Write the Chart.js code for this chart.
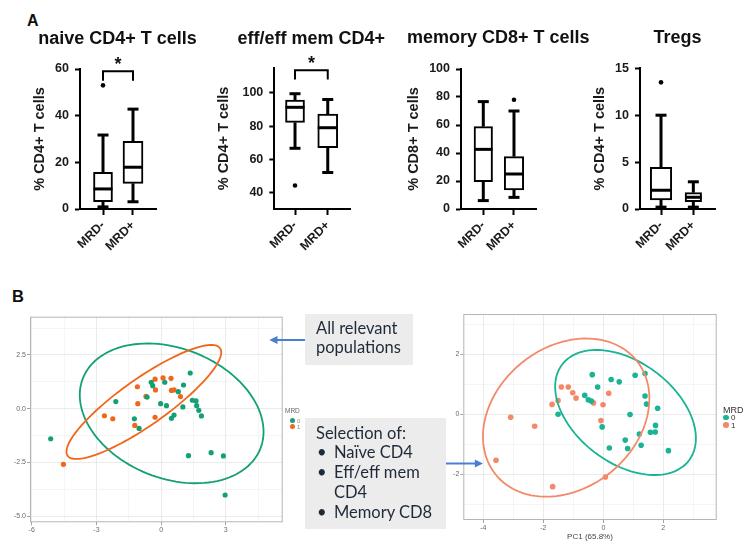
<!DOCTYPE html>
<html>
<head>
<meta charset="utf-8">
<script src="https://cdn.jsdelivr.net/npm/chart.js@4.4.1/dist/chart.umd.min.js"></script>
<style>
  body { margin:0; width:754px; height:558px; background:#fff; position:relative; overflow:hidden;
         font-family:"Liberation Sans", Arial, sans-serif; }
  canvas { position:absolute; }
  .t { position:absolute; white-space:nowrap; line-height:1; color:#111; }
  .ttl { position:absolute; width:220px; text-align:center; font-size:18px; font-weight:bold; line-height:1; color:#111; }
  .note { position:absolute; background:#ececec; font-family:Lato, "Noto Sans", sans-serif; font-size:16.5px; color:#1e2a38; box-sizing:border-box; }
  .note div { position:relative; white-space:nowrap; }
  .note .bl { padding-left:29px; margin-left:-11px; }
  .note .bl span { position:absolute; left:12px; }
  .dot { position:absolute; border-radius:50%; }
</style>
</head>
<body>

<canvas id="box0"></canvas>
<canvas id="box1"></canvas>
<canvas id="box2"></canvas>
<canvas id="box3"></canvas>
<canvas id="pcaL"></canvas>
<canvas id="pcaR"></canvas>

<div class="t" style="left:27px;top:12.5px;font-size:16px;font-weight:bold">A</div>
<div class="t" style="left:12px;top:287.5px;font-size:16.5px;font-weight:bold">B</div>

<div class="ttl" style="left:7.5px;top:28.8px">naive CD4+ T cells</div>
<div class="ttl" style="left:201.3px;top:28.8px">eff/eff mem CD4+</div>
<div class="ttl" style="left:388.3px;top:28px">memory CD8+ T cells</div>
<div class="ttl" style="left:567.5px;top:28px">Tregs</div>

<!-- small legends of the PCA plots -->
<div class="t" style="left:285px;top:408px;font-size:6.5px;color:#666">MRD</div>
<div class="dot" style="left:290.2px;top:417.5px;width:5px;height:5px;background:#14a075"></div>
<div class="dot" style="left:290.2px;top:423.9px;width:5px;height:5px;background:#f0661a"></div>
<div class="t" style="left:297px;top:417.5px;font-size:6px;color:#888">0</div>
<div class="t" style="left:297px;top:423.9px;font-size:6px;color:#888">1</div>

<div class="t" style="left:723px;top:405.7px;font-size:9px;color:#333">MRD</div>
<div class="dot" style="left:723.2px;top:414.5px;width:5.6px;height:5.6px;background:#1ab394"></div>
<div class="dot" style="left:723.2px;top:422.2px;width:5.6px;height:5.6px;background:#f4896a"></div>
<div class="t" style="left:731px;top:413.8px;font-size:8px;color:#333">0</div>
<div class="t" style="left:731px;top:421.5px;font-size:8px;color:#333">1</div>

<div class="note" style="left:305px;top:314px;width:108px;height:51px;padding-top:5px;padding-left:11px;line-height:19px">
  <div>All relevant</div>
  <div>populations</div>
</div>
<div class="note" style="left:305px;top:418px;width:141px;height:111px;padding-top:5.7px;padding-left:11px;line-height:19.8px">
  <div>Selection of:</div>
  <div class="bl"><span>•</span>Naïve CD4</div>
  <div class="bl"><span>•</span>Eff/eff mem</div>
  <div class="bl">CD4</div>
  <div class="bl"><span>•</span>Memory CD8</div>
</div>

<svg style="position:absolute;left:0;top:0" width="754" height="558">
  <line x1="305" y1="340" x2="276" y2="340" stroke="#4a7ecf" stroke-width="2"/>
  <polygon points="269.3,340 277.5,336 277.5,344" fill="#4a7ecf"/>
  <line x1="446" y1="463.5" x2="475" y2="463.5" stroke="#4a7ecf" stroke-width="2"/>
  <polygon points="483,463.5 474.8,459.5 474.8,467.5" fill="#4a7ecf"/>
</svg>

<script>
// ---- panel A: box plots ----
const groups = ['MRD-', 'MRD+'];
const yTitles = ['% CD4+ T cells', '% CD4+ T cells', '% CD8+ T cells', '% CD4+ T cells'];
// one pair [MRD-, MRD+] per panel
const whiskLow  = [[0.9, 3.1],  [66.6, 52],   [6, 8.3],     [0.2, 0.2]];
const q1        = [[3.1, 11],   [82.2, 67],   [19.5, 13.6], [0.96, 0.78]];
const median    = [[8.6, 17.9], [91.3, 79],   [42.6, 25],   [2.0, 1.25]];
const q3        = [[15.7, 29],  [95.7, 87.2], [58.8, 37.4], [4.44, 1.74]];
const whiskHigh = [[31.7, 42.8],[99.5, 96],   [76.7, 70],   [10, 2.9]];
const outliers  = [[[0, 53]], [[0, 44.2]], [[1, 78]], [[0, 13.5]]];
const yMin = [0, 30, 0, 0];
const yMax = [60, 115, 100, 15];
const yTicks = [[0, 20, 40, 60], [40, 60, 80, 100], [0, 20, 40, 60, 80, 100], [0, 5, 10, 15]];
// significance bracket: [bar level, leg end] or null
const sigBar = [[59, 55], [113.6, 108], null, null];

// ---- panel B: PCA scores ----
const pcaLeftMRD0 = [[-5.12,-1.40],[-2.10,0.33],[-1.24,-0.47],[-1.02,-0.92],[-0.46,1.23],[-0.39,1.07],[0.17,1.23],
  [-0.65,0.54],[-0.02,0.23],[0.25,0.14],[0.80,0.79],[1.04,1.10],[1.35,1.66],[1.01,0.08],[0.48,-0.45],[0.60,-0.30],
  [1.45,0.39],[1.62,0.36],[1.65,0.14],[1.75,-0.08],[1.87,-0.34],[1.27,-2.19],[2.32,-2.05],[2.89,-2.20],[2.97,-4.02]];
const pcaLeftMRD1 = [[-4.53,-2.59],[-2.63,-0.33],[-2.24,-0.47],[-1.10,1.02],[-1.08,0.23],[-1.22,-0.78],[-0.70,0.57],
  [-0.28,1.37],[-0.26,0.87],[-0.28,-0.40],[0.09,1.43],[0.46,1.41],[0.48,0.85],[0.60,0.87],[0.90,0.56]];
const pcaRightMRD0 = [[-0.37,1.32],[-0.19,0.91],[0.26,1.16],[0.53,1.08],[1.06,1.30],[1.39,1.36],[1.39,0.61],[1.44,0.34],
  [1.81,0.20],[-0.62,0.63],[-0.50,0.48],[-0.40,0.44],[-1.51,0.00],[0.89,-0.01],[-0.04,-0.42],[1.20,-0.66],[1.57,-0.60],
  [1.73,-0.59],[1.74,-0.37],[0.73,-0.86],[1.26,-1.03],[0.81,-1.14],[0.20,-1.12],[2.17,-1.21]];
const pcaRightMRD1 = [[-3.09,-0.10],[-3.58,-1.53],[-2.29,-0.40],[-1.71,0.33],[-1.51,0.46],[-1.40,0.91],[-1.17,0.91],
  [-1.02,0.72],[-0.91,0.54],[-0.33,0.38],[-0.01,0.32],[0.18,0.70],[-0.08,-0.21],[-1.69,-2.41],[0.07,-2.09]];
// confidence ellipses: [cx, cy, semi-major, semi-minor, angle deg] for MRD 0, MRD 1
const ellipseLeft  = [[0.49, -0.22, 4.43, 3.02, -21.9], [-0.80, 0.31, 4.33, 1.08, 35.3]];
const ellipseRight = [[0.74, 0.06, 2.65, 1.68, -36.9], [-1.24, -0.11, 3.02, 2.35, 38.9]];
const pcaXLabel = 'PC1 (65.8%)';

Chart.defaults.font.family = '"Liberation Sans", Arial, sans-serif';
Chart.defaults.animation = false;

// puts a canvas so that its chart area lands on the given box, returns the layout padding
function place(canvas, area, yW, xH, extra) {
  const left = Math.floor(area.l - yW - extra.l), top = Math.floor(area.t - extra.t);
  const width = Math.ceil(area.r + extra.r - left), height = Math.ceil(area.b + xH + extra.b - top);
  canvas.width = width; canvas.height = height;
  canvas.style.left = left + 'px'; canvas.style.top = top + 'px';
  return { left: area.l - yW - left, top: area.t - top, right: left + width - area.r, bottom: top + height - area.b - xH };
}

const boxArea = [{l:80, t:69, r:156, b:209}, {l:274.3, t:68, r:350, b:209}, {l:461, t:69, r:536.7, b:209}, {l:640, t:68.3, r:715, b:209}];
const boxYW = [48.4, 59.4, 56.1, 48.4];
const boxXRange = [[-0.767, 1.767], [-0.633, 1.68], [-0.726, 1.74], [-0.65, 1.67]];
const boxWidth = [[19, 20], [19, 20], [18.5, 19.5], [21.5, 16.5]];

const boxPlugin = {
  id: 'boxWhisker',
  afterDatasetsDraw(chart, args, opts) {
    const i = opts.panel, xs = chart.scales.x, ys = chart.scales.y, ctx = chart.ctx;
    const seg = (x1, y1, x2, y2, w) => { ctx.lineWidth = w; ctx.beginPath(); ctx.moveTo(x1, y1); ctx.lineTo(x2, y2); ctx.stroke(); };
    ctx.save();
    ctx.strokeStyle = '#000';
    groups.forEach((g, k) => {
      const px = xs.getPixelForValue(k), half = boxWidth[i][k] / 2;
      const yhi = ys.getPixelForValue(whiskHigh[i][k]), ylo = ys.getPixelForValue(whiskLow[i][k]);
      seg(px, ys.getPixelForValue(q3[i][k]), px, yhi, 3);
      seg(px - 5.5, yhi, px + 5.5, yhi, 3);
      seg(px, ys.getPixelForValue(q1[i][k]), px, ylo, 3);
      seg(px - 5.5, ylo, px + 5.5, ylo, 3);
      const ym = ys.getPixelForValue(median[i][k]);
      seg(px - half, ym, px + half, ym, 3);
    });
    const sb = sigBar[i];
    if (sb) {
      const xa = xs.getPixelForValue(0), xb = xs.getPixelForValue(1);
      const yb = ys.getPixelForValue(sb[0]), yl = ys.getPixelForValue(sb[1]);
      ctx.lineWidth = 2;
      ctx.beginPath(); ctx.moveTo(xa, yl); ctx.lineTo(xa, yb); ctx.lineTo(xb, yb); ctx.lineTo(xb, yl); ctx.stroke();
      ctx.fillStyle = '#111'; ctx.font = 'bold 18px "Liberation Sans", Arial'; ctx.textAlign = 'center';
      ctx.textBaseline = 'alphabetic';
      ctx.fillText('*', (xa + xb) / 2, yb - 1);
    }
    ctx.restore();
  }
};

function makeBox(i) {
  const cv = document.getElementById('box' + i);
  const pad = place(cv, boxArea[i], boxYW[i], 55, {l:4, t:26, r:6, b:4});
  const boxes = groups.map((g, k) => ({
    type: 'bar', data: [{x: k, y: [q1[i][k], q3[i][k]]}], grouped: false,
    backgroundColor: '#fff', borderColor: '#000', borderWidth: 2, borderSkipped: false, barThickness: boxWidth[i][k]
  }));
  new Chart(cv, {
    type: 'bar',
    data: { datasets: boxes.concat([
      { type: 'scatter', data: outliers[i].map(o => ({x: o[0], y: o[1]})),
        pointRadius: 2.3, pointBackgroundColor: '#000', pointBorderWidth: 0 }
    ])},
    options: {
      responsive: false,
      layout: { padding: pad },
      plugins: { legend: {display: false}, tooltip: {enabled: false}, boxWhisker: {panel: i} },
      scales: {
        x: { type: 'linear', min: boxXRange[i][0], max: boxXRange[i][1], offset: false,
          afterBuildTicks: s => { s.ticks = [{value: 0}, {value: 1}]; },
          afterFit: s => { s.height = 55; },
          ticks: { callback: v => groups[v], minRotation: 45, maxRotation: 45, autoSkip: false,
                   font: {size: 12.5, weight: 'bold'}, color: '#1a1a1a', padding: 3 },
          grid: { offset: false, drawOnChartArea: false, tickLength: 6, tickColor: '#000', tickWidth: 2 },
          border: { color: '#000', width: 2 } },
        y: { type: 'linear', min: yMin[i], max: yMax[i], beginAtZero: false,
          afterBuildTicks: s => { s.ticks = yTicks[i].map(v => ({value: v})); },
          afterFit: s => { s.width = boxYW[i]; },
          ticks: { font: {size: 12.5, weight: 'bold'}, color: '#1a1a1a', padding: 6 },
          grid: { drawOnChartArea: false, tickLength: 5, tickColor: '#000', tickWidth: 2 },
          border: { color: '#000', width: 2 },
          title: { display: true, text: yTitles[i], font: {size: 14.5, weight: 'bold'}, color: '#1a1a1a', padding: 0 } }
      }
    },
    plugins: [boxPlugin]
  });
}
[0, 1, 2, 3].forEach(makeBox);

const ellipsePlugin = {
  id: 'ellipses',
  afterDatasetsDraw(chart, args, opts) {
    const xs = chart.scales.x, ys = chart.scales.y, ctx = chart.ctx, ca = chart.chartArea;
    ctx.save();
    opts.list.forEach((e, n) => {
      const [cx, cy, a, b, deg] = e, th = deg * Math.PI / 180;
      ctx.strokeStyle = opts.colors[n]; ctx.lineWidth = 1.8;
      ctx.beginPath();
      for (let s = 0; s <= 120; s++) {
        const t = s / 120 * 2 * Math.PI, dx = a * Math.cos(t), dy = b * Math.sin(t);
        const px = xs.getPixelForValue(cx + dx * Math.cos(th) - dy * Math.sin(th));
        const py = ys.getPixelForValue(cy + dx * Math.sin(th) + dy * Math.cos(th));
        if (s) ctx.lineTo(px, py); else ctx.moveTo(px, py);
      }
      ctx.closePath(); ctx.stroke();
    });
    ctx.strokeStyle = '#b5b5b5'; ctx.lineWidth = 1;
    ctx.strokeRect(ca.left + 0.5, ca.top + 0.5, ca.width - 1, ca.height - 1);
    ctx.restore();
  }
};

function makePca(id, set0, set1, ell, cfg) {
  const cv = document.getElementById(id);
  const pad = place(cv, cfg.area, cfg.yW, 30, {l:0, t:10, r:7, b:0});
  const isMaj = (v, m) => Math.abs(v / m - Math.round(v / m)) < 1e-6;
  const gridCol = m => c => isMaj(c.tick.value, m) ? '#e6e6e6' : '#f3f3f3';
  const tickCol = m => c => isMaj(c.tick.value, m) ? '#8a8a8a' : 'rgba(0,0,0,0)';
  new Chart(cv, {
    type: 'scatter',
    data: { datasets: [
      { data: set0.map(p => ({x: p[0], y: p[1]})), backgroundColor: cfg.colors[0], pointRadius: cfg.r, pointBorderWidth: 0 },
      { data: set1.map(p => ({x: p[0], y: p[1]})), backgroundColor: cfg.colors[1], pointRadius: cfg.r, pointBorderWidth: 0 }
    ]},
    options: {
      responsive: false,
      layout: { padding: pad },
      plugins: { legend: {display: false}, tooltip: {enabled: false}, ellipses: {list: ell, colors: cfg.colors} },
      scales: {
        x: { type: 'linear', min: cfg.x[0], max: cfg.x[1],
          afterBuildTicks: s => { s.ticks = cfg.xt.map(v => ({value: v})); },
          afterFit: s => { s.height = 30; },
          ticks: { callback: v => isMaj(v, cfg.xm) ? cfg.fx(v) : '', autoSkip: false, maxRotation: 0,
                   font: {size: 7}, color: '#6a6a6a', padding: 1 },
          grid: { color: gridCol(cfg.xm), lineWidth: 0.8, tickLength: 3, tickColor: tickCol(cfg.xm) },
          border: { display: false },
          title: { display: cfg.title !== '', text: cfg.title, font: {size: 8}, color: '#444', padding: {top: 0, bottom: 8.5} } },
        y: { type: 'linear', min: cfg.y[0], max: cfg.y[1],
          afterBuildTicks: s => { s.ticks = cfg.yt.map(v => ({value: v})); },
          afterFit: s => { s.width = cfg.yW; },
          ticks: { callback: v => isMaj(v, cfg.ym) ? cfg.fy(v) : '', autoSkip: false,
                   font: {size: 7}, color: '#6a6a6a', padding: 1 },
          grid: { color: gridCol(cfg.ym), lineWidth: 0.8, tickLength: 3, tickColor: tickCol(cfg.ym) },
          border: { display: false } }
      }
    },
    plugins: [ellipsePlugin]
  });
}

makePca('pcaL', pcaLeftMRD0, pcaLeftMRD1, ellipseLeft, {
  area: {l:30, t:316.7, r:282.7, b:522.3}, yW: 30, r: 2.6, colors: ['#14a075', '#f0661a'],
  x: [-6.08, 5.64], xt: [-6, -4.5, -3, -1.5, 0, 1.5, 3, 4.5], xm: 3, fx: v => String(v),
  y: [-5.29, 4.28], yt: [-5, -3.75, -2.5, -1.25, 0, 1.25, 2.5, 3.75], ym: 2.5, fy: v => v.toFixed(1),
  title: ''
});
makePca('pcaR', pcaRightMRD0, pcaRightMRD1, ellipseRight, {
  area: {l:463.3, t:314, r:716.7, b:520}, yW: 33.3, r: 2.8, colors: ['#1ab394', '#f4896a'],
  x: [-4.67, 3.78], xt: [-4, -3, -2, -1, 0, 1, 2, 3], xm: 2, fx: v => String(v),
  y: [-3.52, 3.34], yt: [-3, -2, -1, 0, 1, 2, 3], ym: 2, fy: v => String(v),
  title: pcaXLabel
});
</script>
</body>
</html>
